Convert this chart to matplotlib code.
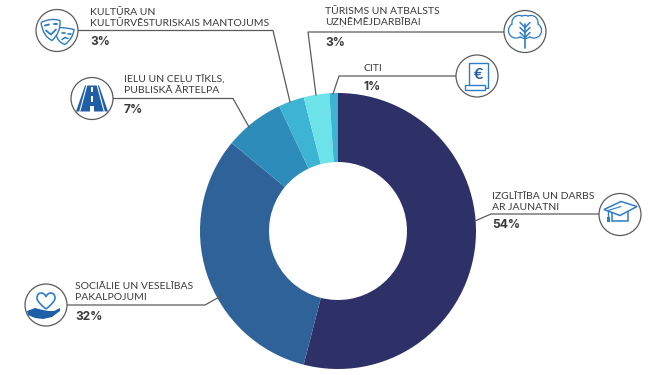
#!/usr/bin/env python3
"""Donut chart with leader lines and round icons, laid out in image pixels."""
import matplotlib
matplotlib.use("Agg")
import matplotlib.pyplot as plt
from matplotlib.patches import Circle, Polygon, Rectangle, PathPatch
from matplotlib.path import Path

W, H = 665, 375
CX, CY, R_OUT, R_IN = 338, 231, 138, 69

shares = [54, 32, 7, 3, 3, 1]
share_labels = ["54%", "32%", "7%", "3%", "3%", "1%"]
categories = [
    "IZGLĪTĪBA UN DARBS\nAR JAUNATNI",
    "SOCIĀLIE UN VESELĪBAS\nPAKALPOJUMI",
    "IELU UN CEĻU TĪKLS,\nPUBLISKĀ ĀRTELPA",
    "KULTŪRA UN\nKULTŪRVĒSTURISKAIS MANTOJUMS",
    "TŪRISMS UN ATBALSTS\nUZŅĒMĒJDARBĪBAI",
    "CITI",
]
colors = ["#2E3168", "#2F6299", "#2E8CBB", "#3EB4D4", "#6BE3E8", "#3EB4D4"]

# x, first baseline, pct baseline
text_pos = [(492, 199, 228), (75, 289, 320), (124, 82, 113), (90, 15, 45), (325, 14, 46), (363, 71, 90)]
circles = [(620, 214.5), (46, 305), (92, 98.5), (57, 30.5), (525, 31.5), (477, 76)]
leaders = [
    [(475, 221), (491, 214), (599, 214)],
    [(221, 296), (205, 305), (67, 305)],
    [(249, 127), (233, 98.5), (113, 98.5)],
    [(290, 102), (273, 30.5), (78, 30.5)],
    [(316, 95), (308, 32), (504, 32)],
    [(333, 94), (339, 76), (456, 76)],
]

INK = "#3A3A3C"
LINE = "#5A5B5F"
ICON = "#2F7DC4"
ICON_DARK = "#1F5FA8"

plt.rcParams["font.family"] = ["Lato", "DejaVu Sans"]

fig = plt.figure(figsize=(W / 100, H / 100), dpi=100)
pie_ax = fig.add_axes([0, 0, 1, 1])
pie_ax.pie(shares, colors=colors, startangle=90, counterclock=False,
           center=(CX, H - CY), radius=R_OUT,
           wedgeprops={"width": R_OUT - R_IN, "linewidth": 0})
pie_ax.set_xlim(0, W)
pie_ax.set_ylim(0, H)
pie_ax.axis("off")

ax = fig.add_axes([0, 0, 1, 1])
ax.set_xlim(0, W)
ax.set_ylim(H, 0)
ax.axis("off")
ax.patch.set_alpha(0)


def stroke(pts, color=ICON, lw=1.0):
    ax.plot([p[0] for p in pts], [p[1] for p in pts], color=color, lw=lw,
            solid_capstyle="round", solid_joinstyle="round", zorder=7)


def blob(x, y, verts, fc="white", ec=ICON, lw=1.0, z=5):
    # smooth closed outline through quadratic segments
    pts = [(x + a, y + b) for a, b in verts]
    codes = [Path.MOVETO] + [Path.CURVE3] * (len(pts) - 1)
    ax.add_patch(PathPatch(Path(pts, codes), fc=fc, ec=ec, lw=lw, zorder=z))


def masks(x, y):
    blob(x, y, [(1, -3), (9, -3), (17, -1), (16, 8), (8, 14), (1, 12), (-1, 4), (-1, 0), (1, -3)], z=5)
    blob(x, y, [(-16, -8), (-6, -13), (3, -10), (4, 2), (-5, 10), (-14, 6), (-16, -8)], z=6)
    stroke([(-12 + x, -5 + y), (-8 + x, -6 + y)], lw=1.4)
    stroke([(-3 + x, -7 + y), (0 + x, -7 + y)], lw=1.4)
    stroke([(-11 + x, 0 + y), (-6 + x, 4 + y), (-1 + x, -1 + y)], lw=1.3)
    stroke([(5 + x, 2 + y), (8 + x, 2 + y)], lw=1.2)
    stroke([(11 + x, 3 + y), (14 + x, 3 + y)], lw=1.2)
    stroke([(5 + x, 9 + y), (8 + x, 7 + y), (11 + x, 8 + y)], lw=1.1)


def road(x, y):
    ax.add_patch(Polygon([(x - 16, y + 13), (x - 7, y - 13), (x + 7, y - 13), (x + 16, y + 13)],
                         closed=True, fc=ICON_DARK, ec="none", zorder=5))
    for s in (-1, 1):
        stroke([(x + s * 12.5, y + 14), (x + s * 5, y - 14)], color="white", lw=0.8)
    for top, bot, half in [(-12, -7, 0.8), (-3, 3, 1.2), (7, 13, 1.7)]:
        ax.add_patch(Rectangle((x - half, y + top), 2 * half, bot - top, fc="white", ec="none", zorder=8))


def tree(x, y):
    lobes = [(-9, -1, 7.5), (9, -1, 7.5), (-6, -9, 7), (6, -9, 7), (0, -8, 8), (0, 0, 7)]
    for a, b, r in lobes:
        ax.add_patch(Circle((x + a, y + b), r, fc=ICON, ec=ICON, lw=1.0, zorder=5))
    for a, b, r in lobes:
        ax.add_patch(Circle((x + a, y + b), r - 0.6, fc="white", ec="none", zorder=6))
    stroke([(x, y - 8), (x, y + 16)], lw=1.2)
    for dy in (-4, 1, 6):
        stroke([(x - 5, y + dy - 5), (x, y + dy)], lw=1.1)
        stroke([(x + 5, y + dy - 5), (x, y + dy)], lw=1.1)


def invoice(x, y):
    ax.add_patch(Polygon([(x - 8, y + 10), (x - 8, y - 13), (x + 11, y - 13), (x + 11, y + 12)],
                         closed=True, fc="white", ec=ICON, lw=1.0, zorder=5))
    ax.add_patch(Rectangle((x - 12, y + 9), 20, 4.5, fc="white", ec=ICON, lw=1.0, zorder=6))
    ax.text(x + 1.5, y - 1, "€", color=ICON_DARK, fontsize=11.5, fontweight="bold",
            ha="center", va="center", zorder=7)


def grad_cap(x, y):
    ax.add_patch(Rectangle((x - 8, y - 4), 16, 10, fc="white", ec=ICON, lw=1.1, zorder=5))
    ax.add_patch(Polygon([(x - 16, y - 5), (x + 1, y - 13), (x + 17, y - 8), (x, y + 1)],
                         closed=True, fc="white", ec=ICON, lw=1.1, zorder=6))
    stroke([(x - 12, y - 4), (x - 12, y + 2)])
    stroke([(x + 1, y - 8), (x - 12, y - 4)], lw=0.8)
    ax.add_patch(Rectangle((x - 13.5, y + 2), 3, 5, fc=ICON, ec="none", zorder=7))


def heart_hand(x, y):
    pts = [(x, y + 4),
           (x - 6, y - 1), (x - 9, y - 4), (x - 9, y - 7),
           (x - 9, y - 14), (x - 1, y - 13), (x, y - 8),
           (x + 1, y - 13), (x + 9, y - 14), (x + 9, y - 7),
           (x + 9, y - 4), (x + 6, y - 1), (x, y + 4)]
    codes = [Path.MOVETO] + [Path.CURVE4] * 12
    ax.add_patch(PathPatch(Path(pts, codes), fc="white", ec=ICON, lw=1.2, zorder=5))
    hand = [(-19, 6), (-11, 3), (-3, 5), (3, 6), (8, 6), (14, 3), (14, 6), (6, 12), (-3, 14), (-11, 13), (-18, 10)]
    ax.add_patch(Polygon([(x + a, y + b) for a, b in hand], closed=True, fc=ICON_DARK, ec="none", zorder=5))


icons = [grad_cap, heart_hand, road, masks, tree, invoice]

for name, pct, (tx, base, pct_y), (ix, iy), path, icon in zip(
        categories, share_labels, text_pos, circles, leaders, icons):
    ax.plot([p[0] for p in path], [p[1] for p in path], color=LINE, lw=0.9, zorder=2,
            solid_joinstyle="miter")
    ax.add_patch(Circle((ix, iy), 21, fc="white", ec=LINE, lw=0.9, zorder=3))
    icon(ix, iy)
    for i, line in enumerate(name.split("\n")):
        ax.text(tx, base + i * 11, line, color=INK, fontsize=7.5, ha="left", va="baseline")
    ax.text(tx, pct_y, pct, color=INK, fontsize=8.6, fontweight="bold", ha="left", va="baseline",
            family=["Inter", "DejaVu Sans"])

fig.savefig("out.png", dpi=100)
